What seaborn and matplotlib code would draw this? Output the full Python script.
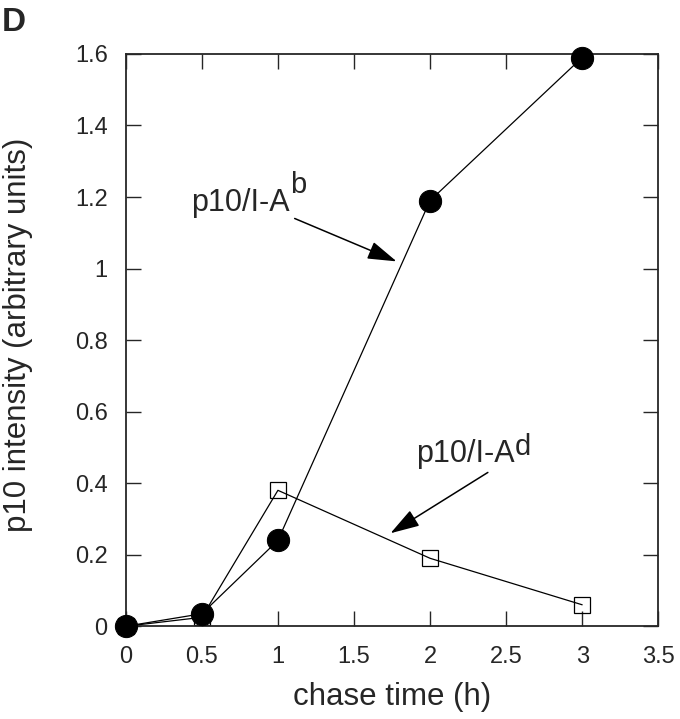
import matplotlib
matplotlib.use("Agg")
import matplotlib.pyplot as plt
import pandas as pd
import seaborn as sns

chase_time = [0, 0.5, 1, 2, 3]
iab_intensity = [0.0, 0.035, 0.24, 1.19, 1.59]
iad_intensity = [0.0, 0.025, 0.38, 0.19, 0.06]

x_ticks = [0, 0.5, 1, 1.5, 2, 2.5, 3, 3.5]
y_ticks = [0, 0.2, 0.4, 0.6, 0.8, 1, 1.2, 1.4, 1.6]

sns.set_style("ticks")
plt.rcParams["font.family"] = ["Liberation Sans", "DejaVu Sans"]

df = pd.DataFrame({"time": chase_time, "Ab": iab_intensity, "Ad": iad_intensity})

fig = plt.figure(figsize=(6.8, 7.19), dpi=100)
ax = fig.add_axes([0.185, 0.129, 0.783, 0.796])

sns.lineplot(data=df, x="time", y="Ad", ax=ax, color="black", lw=0.9,
             marker="s", markersize=11.5, markerfacecolor="none",
             markeredgecolor="black", markeredgewidth=0.9, zorder=2,
             clip_on=False)
sns.lineplot(data=df, x="time", y="Ab", ax=ax, color="black", lw=0.9,
             marker="o", markersize=16, markerfacecolor="black",
             markeredgecolor="black", zorder=3, clip_on=False)

ax.set_xlim(0, 3.5)
ax.set_ylim(0, 1.6)
ax.set_xticks(x_ticks)
ax.set_yticks(y_ticks)
ax.set_xticklabels([f"{t:g}" for t in x_ticks])
ax.set_yticklabels([f"{t:g}" for t in y_ticks])
ax.tick_params(direction="in", top=True, right=True, length=11, width=1,
               labelsize=17)
ax.tick_params(axis="x", pad=14)
ax.tick_params(axis="y", pad=13)
for s in ax.spines.values():
    s.set_linewidth(1.3)
ax.set_xlabel("chase time (h)", fontsize=22.5, labelpad=10)
ax.set_ylabel("p10 intensity (arbitrary units)", fontsize=22.5)
ax.yaxis.set_label_coords(-0.175, 0.51)

# arrows with large filled heads, as in the printed figure
arrow = dict(arrowstyle="-|>,head_length=0.9,head_width=0.28", color="black",
             lw=1.1, shrinkA=0, shrinkB=0, mutation_scale=20)
tb = ax.text(0.43, 1.16, "p10/I-A", fontsize=22, va="baseline")
ax.annotate("b", xy=(1, 0), xycoords=tb, xytext=(0, 18), textcoords="offset points",
            fontsize=21, va="baseline")
ax.annotate("", xy=(1.78, 1.02), xytext=(1.11, 1.14), arrowprops=arrow)

td = ax.text(1.91, 0.46, "p10/I-A", fontsize=22, va="baseline")
ax.annotate("d", xy=(1, 0), xycoords=td, xytext=(0, 10), textcoords="offset points",
            fontsize=21, va="baseline")
ax.annotate("", xy=(1.74, 0.26), xytext=(2.38, 0.43), arrowprops=arrow)

fig.text(0.003, 0.957, "D", fontsize=24, fontweight="bold")

fig.savefig("out.png", dpi=100)
